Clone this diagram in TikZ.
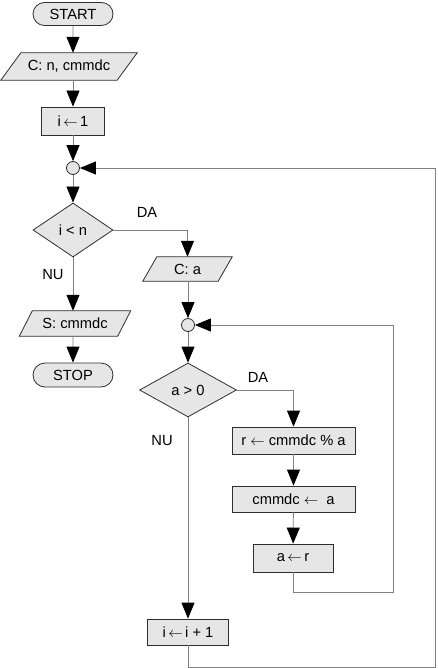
\documentclass[tikz,border=0pt]{standalone}
\usepackage{fontspec}
\setmainfont{Liberation Sans}
\usetikzlibrary{arrows.meta,shapes.geometric,shapes.misc,backgrounds}
\definecolor{boxfill}{HTML}{E6E6E6}
\definecolor{boxline}{HTML}{2E2E2E}
\definecolor{conn}{HTML}{808080}
\newcommand{\larr}{\ensuremath{\leftarrow}}
\tikzset{
  every node/.style={font=\fontsize{14.7pt}{17pt}\selectfont},
  termbox/.style={rounded rectangle, draw=boxline, fill=boxfill, line width=0.8pt, inner sep=0pt},
  procbox/.style={rectangle, draw=boxline, fill=boxfill, line width=0.8pt, inner sep=0pt},
  iobox/.style={rectangle, inner sep=0pt},
  decbox/.style={diamond, draw=boxline, fill=boxfill, line width=0.8pt, inner sep=0pt},
  joinbox/.style={circle, draw=boxline, fill=boxfill, line width=0.8pt, inner sep=0pt, minimum size=13pt},
  para/.style={draw=boxline, fill=boxfill, line width=0.8pt},
  lbl/.style={inner sep=0pt},
  conline/.style={draw=conn, line width=0.8pt},
  arr/.style={conline, -{Triangle[length=16pt,width=13pt,color=black]}},
}
\begin{document}
\begin{tikzpicture}[x=1pt,y=-1pt]
\useasboundingbox (0,0) rectangle (437,668);
% nodes
\node[termbox, minimum width=80pt, minimum height=23pt] (start) at (73,14) {START};
\node[iobox, minimum width=116pt, minimum height=27pt] (in1) at (69,66.5) {C: n, cmmdc};
\node[procbox, minimum width=63pt, minimum height=28pt] (init) at (73,121) {i\,\larr\,1};
\node[joinbox] (j1) at (73,168) {};
\node[decbox, minimum width=80pt, minimum height=54pt, shape aspect=1.48] (d1) at (73,230) {i < n};
\node[lbl] (da1) at (147,212) {DA};
\node[lbl] (nu1) at (53,275) {NU};
\node[iobox, minimum width=75pt, minimum height=24pt] (ca) at (187.5,269) {C: a};
\node[iobox, minimum width=98pt, minimum height=25pt] (out) at (75,323.5) {S: cmmdc};
\node[termbox, minimum width=80pt, minimum height=24pt] (stop) at (73,375) {STOP};
\node[joinbox] (j2) at (188,325) {};
\node[decbox, minimum width=97pt, minimum height=54pt, shape aspect=1.8] (d2) at (188,390) {a > 0};
\node[lbl] (da2) at (258,377) {DA};
\node[lbl] (nu2) at (162,441) {NU};
\node[procbox, minimum width=123pt, minimum height=27pt] (r1) at (293.5,440.5) {r \larr\ cmmdc \% a};
\node[procbox, minimum width=123pt, minimum height=26pt] (r2) at (293.5,499) {cmmdc \larr\ \ a};
\node[procbox, minimum width=80pt, minimum height=28pt] (r3) at (293,558) {a\,\larr\,r};
\node[procbox, minimum width=81pt, minimum height=26pt] (inc) at (188,632) {i\,\larr\,i + 1};
\coordinate (c2) at (393,592);
\coordinate (c1) at (435.5,667);
% parallelogram outlines
\begin{scope}[on background layer]
\path[para] ([xshift=-10pt]in1.south west) -- ([xshift=-10pt]in1.south east) -- ([xshift=10pt]in1.north east) -- ([xshift=10pt]in1.north west) -- cycle;
\path[para] ([xshift=-7pt]ca.south west) -- ([xshift=-7pt]ca.south east) -- ([xshift=7pt]ca.north east) -- ([xshift=7pt]ca.north west) -- cycle;
\path[para] ([xshift=-6.5pt]out.south west) -- ([xshift=-6.5pt]out.south east) -- ([xshift=6.5pt]out.north east) -- ([xshift=6.5pt]out.north west) -- cycle;
\end{scope}
% connectors
\draw[arr] (start) -- (start.south |- in1.north);
\draw[arr] (in1.south -| init) -- (init);
\draw[arr] (init) -- (j1);
\draw[arr] (j1) -- (d1);
\draw[arr] (d1.east) -| (ca.north);
\draw[arr] (d1) -- (d1.south |- out.north);
\draw[arr] (out.south -| stop) -- (stop);
\draw[arr] (ca.south -| j2) -- (j2);
\draw[arr] (j2) -- (d2);
\draw[arr] (d2.east) -| (r1.north);
\draw[arr] (r1) -- (r2);
\draw[arr] (r2) -- (r3);
\draw[arr] (r3.south) |- (c2) |- (j2.east);
\draw[arr] (d2) -- (inc);
\draw[arr] (inc.south) |- (c1) |- (j1.east);
\end{tikzpicture}
\end{document}
